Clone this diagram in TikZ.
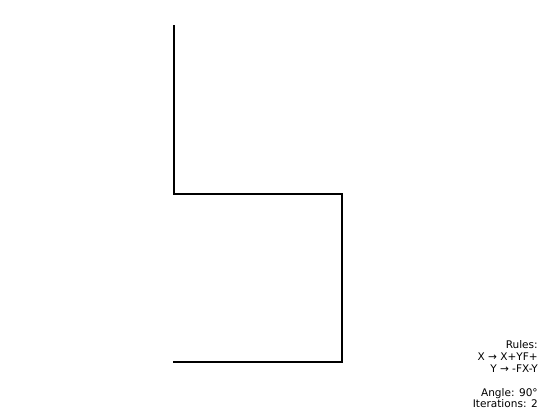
\documentclass[tikz,border=0pt]{standalone}
\usepackage{fontspec}
\setmainfont{DejaVu Sans}
\usepackage{xcolor}
\tikzset{
  curve/.style={line width=1.5pt, line cap=rect},
  rule/.style={anchor=base east, inner sep=0pt, font=\fontsize{7.9}{9}\selectfont}
}

\begin{document}
\begin{tikzpicture}[x=0.75pt,y=-0.75pt]
\useasboundingbox (0,0) rectangle (548,418);

\coordinate (P0) at (174,26);
\coordinate (P1) at (174,194);
\coordinate (P2) at (342,194);
\coordinate (P3) at (342,362);
\coordinate (P4) at (174,362);

\draw[curve] (P0) -- (P1) -- (P2) -- (P3) -- (P4);

\node[rule] (rules) at (538,348) {Rules:};
\node[rule] (ruleX) at (538,360) {X → X+YF+};
\node[rule] (ruleY) at (538,372) {Y → -FX-Y};
\node[rule] (angle) at (538,396) {Angle: 90°};
\node[rule] (iter) at (538,407.5) {Iterations: 2};

\end{tikzpicture}
\end{document}
